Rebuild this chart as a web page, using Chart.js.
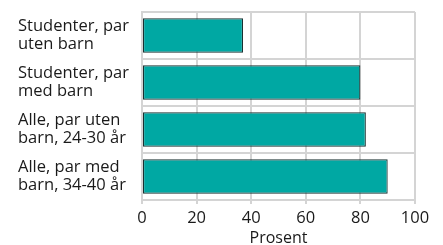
<!DOCTYPE html>
<html><head><meta charset="utf-8">
<script src="https://cdn.jsdelivr.net/npm/chart.js@4/dist/chart.umd.min.js"></script>
<style>html,body{margin:0;padding:0;background:#fff}#w{width:443px;height:245px}</style>
</head><body><div id="w"><canvas id="c"></canvas></div>
<script>
const categories = [["Studenter, par","uten barn"],["Studenter, par","med barn"],["Alle, par uten","barn, 24-30 år"],["Alle, par med","barn, 34-40 år"]];
const values = [37, 80, 82, 90];
const xTicks = [0, 20, 40, 60, 80, 100];
const axisTitle = "Prosent";

new Chart(document.getElementById('c'), {
  type: 'bar',
  data: { labels: categories, datasets: [{ data: values, backgroundColor: '#00a8a3', borderColor: '#1a3030', borderWidth: 1.2, borderSkipped: false, categoryPercentage: 0.73, barPercentage: 1 }] },
  options: {
    indexAxis: 'y', responsive: true, maintainAspectRatio: false, animation: false,
    layout: { padding: { left: 18, right: 28, top: 12, bottom: 0 } },
    plugins: { legend: { display: false }, tooltip: { enabled: false } },
    scales: {
      x: { min: 0, max: 100, afterBuildTicks: s => { s.ticks = xTicks.map(v => ({ value: v })); },
        afterFit: s => { s.paddingLeft = 0; s.paddingRight = 0; s.height = 45; },
        grid: { color: '#d4d4d4', lineWidth: 2, tickLength: 4, drawTicks: true },
        border: { color: '#d4d4d4', width: 2 },
        ticks: { color: '#1a1a1a', font: { family: 'Open Sans', size: 16.5 }, padding: 4 },
        title: { display: true, text: axisTitle, color: '#1a1a1a', font: { family: 'Open Sans', size: 16 }, padding: { top: 0, bottom: -3 } } },
      y: { afterFit: s => { s.paddingTop = 0; s.paddingBottom = 0; s.width = 124; },
        grid: { color: '#d4d4d4', lineWidth: 2, offset: true, drawTicks: false },
        border: { color: '#d4d4d4', width: 2 },
        ticks: { color: '#1a1a1a', font: { family: 'Open Sans', size: 16.5, lineHeight: 1.1 }, crossAlign: 'far', padding: 8 } }
    }
  }
});
</script></body></html>
